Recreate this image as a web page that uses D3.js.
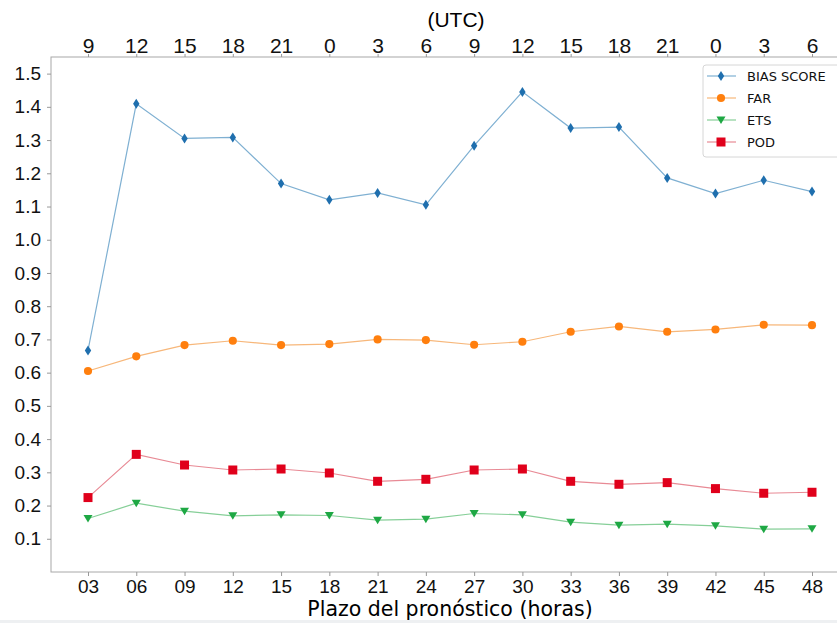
<!DOCTYPE html>
<html lang="es">
<head>
  <meta charset="UTF-8" />
  <title>Verificación por plazo</title>
  <style>
    html, body { margin: 0; padding: 0; background: #fff; }
    svg { display: block; font-family: "DejaVu Sans", sans-serif; }
    .axis text { font-size: 19px; fill: #111; }
    .axis.top text { font-family: "Liberation Sans", Arial, sans-serif; font-size: 21px; }
    .axis path { display: none; }
    .axis line { stroke: #999; }
    .legend text { font-size: 13px; fill: #111; }
  </style>
  <script src="https://d3js.org/d3.v7.min.js"></script>
</head>
<body>
<svg id="chart" width="837" height="623"></svg>
<script>
  // plazo del pronóstico (horas) y hora UTC correspondiente
  const leadHours = [3, 6, 9, 12, 15, 18, 21, 24, 27, 30, 33, 36, 39, 42, 45, 48];
  const leadLabels = ["03", "06", "09", "12", "15", "18", "21", "24", "27", "30", "33", "36", "39", "42", "45", "48"];
  const utcLabels = ["9", "12", "15", "18", "21", "0", "3", "6", "9", "12", "15", "18", "21", "0", "3", "6"];
  const yTicks = [0.1, 0.2, 0.3, 0.4, 0.5, 0.6, 0.7, 0.8, 0.9, 1.0, 1.1, 1.2, 1.3, 1.4, 1.5];

  const biasScore = [0.667, 1.409, 1.305, 1.308, 1.169, 1.120, 1.141, 1.105, 1.283, 1.445, 1.336, 1.339, 1.186, 1.139, 1.179, 1.145];
  const far = [0.605, 0.649, 0.683, 0.696, 0.683, 0.686, 0.700, 0.698, 0.684, 0.693, 0.723, 0.739, 0.723, 0.730, 0.744, 0.743];
  const ets = [0.161, 0.207, 0.183, 0.169, 0.172, 0.170, 0.156, 0.159, 0.176, 0.172, 0.150, 0.141, 0.144, 0.139, 0.129, 0.130];
  const pod = [0.224, 0.354, 0.322, 0.307, 0.310, 0.298, 0.273, 0.279, 0.307, 0.310, 0.273, 0.264, 0.269, 0.251, 0.237, 0.240];

  const series = [
    { name: "BIAS SCORE", values: biasScore, marker: "diamond", color: "#1f6fae", line: "#7fb0d2" },
    { name: "FAR", values: far, marker: "circle", color: "#ff7f0e", line: "#f7b77a" },
    { name: "ETS", values: ets, marker: "triangle", color: "#1ea844", line: "#86cf98" },
    { name: "POD", values: pod, marker: "square", color: "#e0001b", line: "#e88a95" }
  ];

  const svg = d3.select("#chart");
  const plot = { left: 51, right: 842, top: 57, bottom: 572 };

  const x = d3.scaleLinear().domain([3, 48]).range([88, 812]);
  const y = d3.scaleLinear().domain([0, 1.55]).range([plot.bottom, plot.top]);

  // franja gris del borde inferior de la captura
  svg.append("rect").attr("x", 0).attr("y", 620).attr("width", 837).attr("height", 3).attr("fill", "#eef0f2");

  // marco
  svg.append("rect")
    .attr("x", plot.left).attr("y", plot.top)
    .attr("width", plot.right - plot.left).attr("height", plot.bottom - plot.top)
    .attr("fill", "none").attr("stroke", "#a8a8a8").attr("stroke-width", 1);

  svg.append("g").attr("class", "axis")
    .attr("transform", `translate(${plot.left},0)`)
    .call(d3.axisLeft(y).tickValues(yTicks).tickFormat(d3.format(".1f")).tickSize(4).tickPadding(6));

  svg.append("g").attr("class", "axis")
    .attr("transform", `translate(0,${plot.bottom})`)
    .call(d3.axisBottom(x).tickValues(leadHours).tickFormat((d, i) => leadLabels[i]).tickSize(4).tickPadding(4));

  svg.append("g").attr("class", "axis top")
    .attr("transform", `translate(0,${plot.top})`)
    .call(d3.axisTop(x).tickValues(leadHours).tickFormat((d, i) => utcLabels[i]).tickSize(3).tickPadding(1));

  svg.append("text")
    .attr("x", 456).attr("y", 27)
    .attr("text-anchor", "middle")
    .style("font-family", "'Liberation Sans', Arial, sans-serif")
    .style("font-size", "21px")
    .text("(UTC)");

  svg.append("text")
    .attr("x", 450).attr("y", 616)
    .attr("text-anchor", "middle")
    .style("font-size", "20.5px")
    .text("Plazo del pronóstico (horas)");

  const line = d3.line().x((d, i) => x(leadHours[i])).y(d => y(d));

  function markerPath(kind) {
    if (kind === "diamond") return "M0,-5L3.2,0L0,5L-3.2,0Z";
    if (kind === "triangle") return "M-4.5,-3.5L4.5,-3.5L0,4Z";
    if (kind === "square") return "M-4.5,-4.5H4.5V4.5H-4.5Z";
    return d3.symbol().type(d3.symbolCircle).size(52)();
  }

  series.forEach(s => {
    svg.append("path")
      .attr("d", line(s.values))
      .attr("fill", "none")
      .attr("stroke", s.line)
      .attr("stroke-width", 1.2);

    svg.append("g").selectAll("path")
      .data(s.values)
      .join("path")
      .attr("transform", (d, i) => `translate(${x(leadHours[i])},${y(d)})`)
      .attr("d", markerPath(s.marker))
      .attr("fill", s.color);
  });

  // leyenda
  const legend = svg.append("g").attr("class", "legend").attr("transform", "translate(703,65)");
  legend.append("rect")
    .attr("width", 140).attr("height", 92).attr("rx", 3)
    .attr("fill", "#fff").attr("stroke", "#d6d6d6");
  series.forEach((s, i) => {
    const row = legend.append("g").attr("transform", `translate(0,${11 + i * 22})`);
    row.append("line").attr("x1", 4).attr("x2", 33).attr("stroke", s.line).attr("stroke-width", 1.2);
    row.append("path").attr("transform", "translate(18,0)").attr("d", markerPath(s.marker)).attr("fill", s.color);
    row.append("text").attr("x", 44).attr("y", 5).text(s.name);
  });
</script>
</body>
</html>
